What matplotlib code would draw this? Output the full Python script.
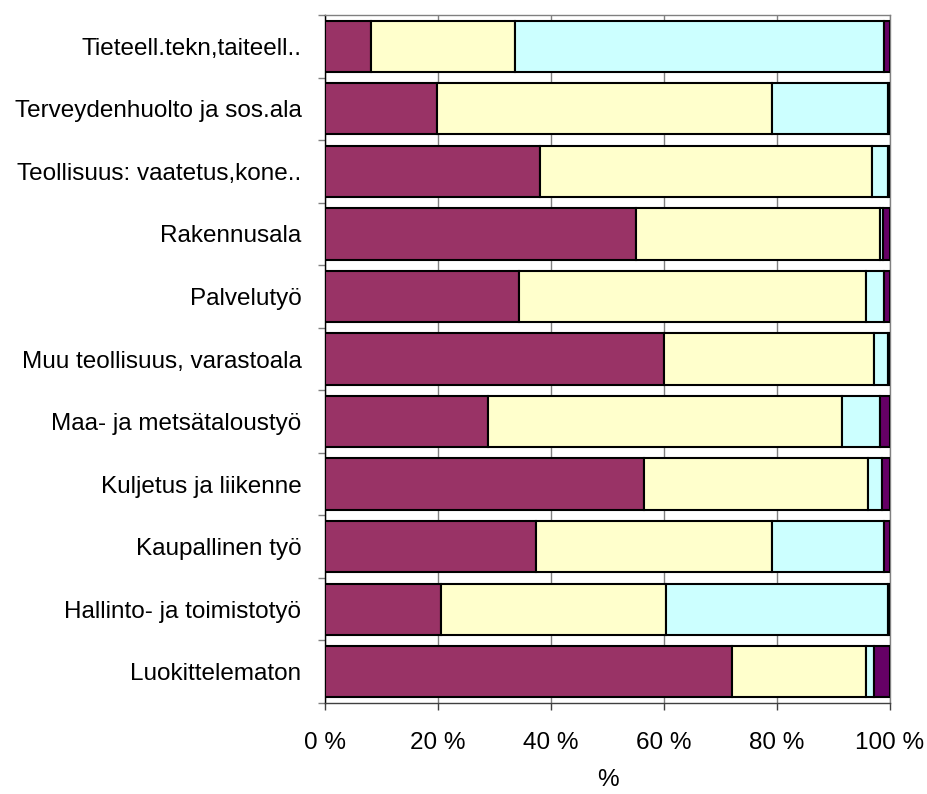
import matplotlib.pyplot as plt
import numpy as np

plt.rcParams['font.family'] = ['Liberation Sans', 'DejaVu Sans']

# categories, top to bottom as in the chart
categories = [
    "Tieteell.tekn,taiteell..",
    "Terveydenhuolto ja sos.ala",
    "Teollisuus: vaatetus,kone..",
    "Rakennusala",
    "Palvelutyö",
    "Muu teollisuus, varastoala",
    "Maa- ja metsätaloustyö",
    "Kuljetus ja liikenne",
    "Kaupallinen työ",
    "Hallinto- ja toimistotyö",
    "Luokittelematon",
]

# shares in percent, one list per series
series_1 = [8.2, 19.9, 38.0, 55.0, 34.4, 60.0, 28.8, 56.4, 37.3, 20.6, 72.0]
series_2 = [25.5, 59.2, 58.9, 43.2, 61.4, 37.2, 62.7, 39.7, 41.8, 39.7, 23.7]
series_3 = [65.2, 20.5, 2.7, 0.5, 3.1, 2.4, 6.7, 2.5, 19.8, 39.3, 1.5]
series_4 = [1.1, 0.4, 0.4, 1.3, 1.1, 0.4, 1.8, 1.4, 1.1, 0.4, 2.8]

colors = ['#993366', '#FFFFCC', '#CCFFFF', '#660066']

fig = plt.figure(figsize=(9.27, 7.94), dpi=100)
ax = fig.add_axes([0.3506, 0.1146, 0.6094, 0.8665])

y = np.arange(len(categories))
left = np.zeros(len(categories))
for vals, col in zip([series_1, series_2, series_3, series_4], colors):
    vals = np.array(vals)
    ax.barh(y, vals, left=left, height=0.82, color=col,
            edgecolor='black', linewidth=1.5, zorder=3)
    left += vals

ax.set_xlim(0, 100)
ax.set_ylim(len(categories) - 0.5, -0.5)
ax.set_xticks([0, 20, 40, 60, 80, 100])
ax.set_xticklabels([f"{v} %" for v in [0, 20, 40, 60, 80, 100]], fontsize=17.5)
ax.set_yticks(y)
ax.set_yticklabels(categories, fontsize=17.5)
ax.set_yticks(np.arange(len(categories) + 1) - 0.5, minor=True)

ax.tick_params(axis='y', which='major', length=0, pad=17)
ax.tick_params(axis='y', which='minor', length=5, color='#808080', width=1)
ax.tick_params(axis='x', which='major', length=5, color='#404040', width=1, pad=16)

ax.xaxis.grid(True, color='#808080', linewidth=1)
ax.set_axisbelow(True)

ax.spines['left'].set_color('black')
ax.spines['bottom'].set_color('#404040')
ax.spines['top'].set_color('#808080')
ax.spines['right'].set_color('#808080')
for s in ax.spines.values():
    s.set_linewidth(1)

ax.set_xlabel('%', fontsize=17.5, labelpad=11)

fig.savefig('out.png', dpi=100)
